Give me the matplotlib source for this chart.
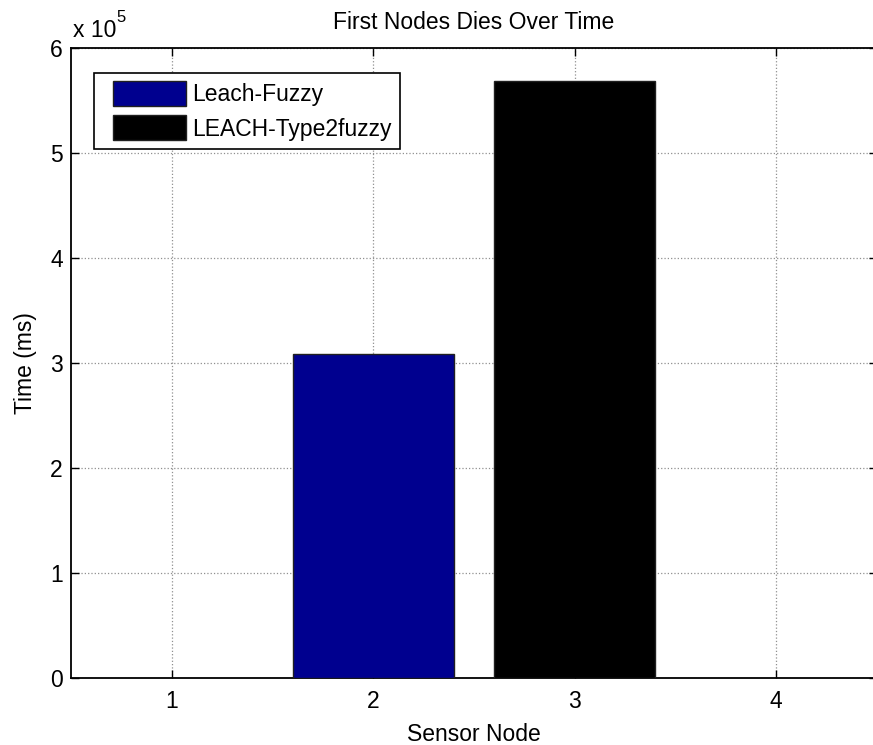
import matplotlib
matplotlib.use("Agg")
import matplotlib.pyplot as plt
import matplotlib.patches as mpatches
from matplotlib.legend_handler import HandlerPatch
from matplotlib.ticker import FuncFormatter

plt.rcParams['font.family'] = ['Liberation Sans', 'DejaVu Sans']

nodes = [1, 2, 3, 4]
times = [0, 308900, 568700, 0]
bar_colors = ['#00008F', '#00008F', '#000000', '#000000']
series_labels = ['Leach-Fuzzy', 'LEACH-Type2fuzzy']
xtick_labels = ['1', '2', '3', '4']
yticks = [0, 100000, 200000, 300000, 400000, 500000, 600000]

FS = 16.5

fig = plt.figure(figsize=(8.73, 7.45), dpi=100)
ax = fig.add_axes([71/873, 1-678/745, (877-71)/873, (678-48)/745])

bars = ax.bar(nodes, times, width=0.8, color=bar_colors, edgecolor='#202020',
              linewidth=1.0, zorder=3)

ax.set_xlim(0.5, 4.5)
ax.set_ylim(0, 600000)
ax.set_xticks(nodes)
ax.set_xticklabels(xtick_labels)
ax.set_yticks(yticks)
ax.yaxis.set_major_formatter(FuncFormatter(lambda v, p: f"{v/1e5:g}"))

ax.grid(True, linestyle=':', color='#909090', linewidth=0.9, zorder=0)
ax.set_axisbelow(True)
ax.tick_params(direction='in', length=6, width=1, labelsize=FS, top=True, right=True)
ax.tick_params(axis='x', pad=9)
ax.tick_params(axis='y', pad=6)
for s in ax.spines.values():
    s.set_linewidth(1.3)
    s.set_color('black')

ax.set_title('First Nodes Dies Over Time', fontsize=FS, pad=13.5)
ax.set_xlabel('Sensor Node', fontsize=FS, labelpad=7)
ax.set_ylabel('Time (ms)', fontsize=FS, labelpad=9)

fig.text(73/873, 1-37/745, 'x 10', fontsize=FS, va='baseline', ha='left')
fig.text(116/873, 1-22/745, '5', fontsize=12, va='baseline', ha='left')


def offset_rect(legend, orig_handle, xdescent, ydescent, width, height, fontsize):
    off = 8
    return mpatches.Rectangle((-xdescent + off, -ydescent), width - off, height)


leg = ax.legend([bars[1], bars[2]], series_labels, loc='upper left',
                bbox_to_anchor=((94-71)/806, (678-73)/630), borderaxespad=0,
                fontsize=FS, fancybox=False, framealpha=1, edgecolor='black',
                handlelength=3.65, handleheight=1.3, handletextpad=0.3,
                borderpad=0.35, labelspacing=0.4,
                handler_map={mpatches.Rectangle: HandlerPatch(patch_func=offset_rect)})
leg.get_frame().set_linewidth(1.2)

fig.savefig('out.png', dpi=100)
